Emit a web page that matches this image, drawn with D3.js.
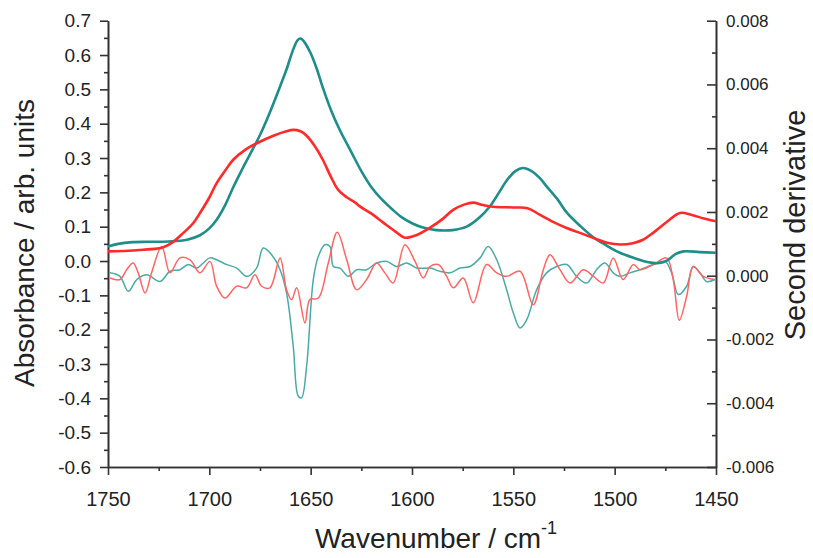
<!DOCTYPE html>
<html>
<head>
<meta charset="utf-8">
<script src="https://cdn.jsdelivr.net/npm/d3@7"></script>
<style>
  body { margin: 0; background: #fff; }
  text { font-family: Arial, "Liberation Sans", sans-serif; fill: #222; }
  .axis path, .axis line { stroke: #333; stroke-width: 1.6; }
</style>
</head>
<body>
<div class="chart"></div>
<script>
  // absorbance spectra, [wavenumber, absorbance]
  var absTeal = [[1750,0.042],[1745,0.05],[1738,0.055],[1730,0.056],[1720,0.057],[1711,0.062],
    [1704.6,0.075],[1700,0.095],[1696.4,0.12],[1692,0.165],[1688.2,0.215],[1684,0.265],
    [1680,0.31],[1675,0.367],[1670,0.435],[1665,0.51],[1661.8,0.56],[1659,0.61],[1656.5,0.643],
    [1655,0.648],[1653,0.637],[1650,0.605],[1647,0.56],[1644,0.505],[1640,0.44],[1635.5,0.38],
    [1630,0.318],[1625,0.262],[1620,0.215],[1615,0.18],[1610,0.152],[1605,0.127],[1600,0.11],
    [1595,0.098],[1588,0.09],[1580,0.09],[1573,0.1],[1567,0.125],[1561.7,0.158],[1557,0.2],
    [1553.1,0.236],[1549,0.262],[1545.2,0.271],[1541,0.262],[1537,0.242],[1533.4,0.216],
    [1528,0.178],[1523.5,0.14],[1517,0.102],[1510.7,0.07],[1504,0.045],[1497.4,0.024],
    [1490,0.008],[1484,-0.003],[1478,-0.006],[1474,0.002],[1470,0.02],[1466,0.028],
    [1458,0.026],[1450,0.024]]

  var absRed = [[1750,0.028],[1740,0.03],[1732.6,0.033],[1726,0.036],[1722.7,0.04],[1718,0.055],
    [1712.8,0.082],[1708,0.11],[1704.6,0.14],[1700,0.185],[1696.4,0.227],[1692,0.265],
    [1688.2,0.295],[1682,0.325],[1676.6,0.343],[1668.4,0.365],[1662,0.378],[1658.6,0.382],
    [1655,0.378],[1652,0.365],[1648,0.335],[1644,0.295],[1640,0.245],[1636.5,0.208],
    [1632,0.185],[1628,0.17],[1625.7,0.159],[1620,0.138],[1614,0.111],[1608,0.085],
    [1603.5,0.068],[1598,0.075],[1591.1,0.097],[1585,0.122],[1579.7,0.149],[1574,0.165],
    [1569.9,0.17],[1565,0.163],[1560,0.158],[1550,0.156],[1543,0.154],[1537,0.135],
    [1530.4,0.114],[1524,0.097],[1517.1,0.082],[1510,0.066],[1503.8,0.053],[1497,0.048],
    [1491,0.052],[1486,0.062],[1481,0.082],[1474,0.115],[1467.8,0.14],[1462,0.134],
    [1456,0.124],[1450,0.116]]

  // second derivative spectra, [wavenumber, value]
  var derivTeal = [[1749,0.00009],[1744.1,-0.00002],[1740,-0.00049],[1735.8,-0.00012],[1730.9,0.00003],
    [1724.3,-0.00018],[1719.4,0.00014],[1714.5,0.00019],[1710.4,0.00035],[1706.2,0.00024],
    [1703,0.0004],[1699.7,0.00056],[1696.4,0.0005],[1691.4,0.00035],[1686.5,0.00024],
    [1681.6,-0.00002],[1676.7,0.00024],[1673.4,0.00087],[1669.3,0.00066],[1665.1,0.00019],
    [1661.9,-0.00054],[1658.6,-0.00221],[1656.1,-0.00378],[1654.5,-0.00383],[1652,-0.00284],
    [1648.7,-0.00012],[1646.2,0.00061],[1643,0.00097],[1640.5,0.00092],[1638.8,0.00029],
    [1635.5,0.00024],[1631.4,-0.00002],[1627.3,0.00019],[1622.4,0.00019],[1617.5,0.0004],
    [1612.5,0.00045],[1607.6,0.00029],[1602.6,0.0004],[1597.7,0.00024],[1591.1,0.00024],
    [1586.2,0.00014],[1581.3,0.00009],[1576.3,0.00024],[1571.4,0.00029],[1566.4,0.00056],
    [1562.4,0.00092],[1558.2,0.0005],[1553.3,-0.00044],[1550,-0.00117],[1546.7,-0.00164],
    [1543.4,-0.00138],[1538.5,-0.00044],[1533.6,0.00009],[1528.6,0.00029],[1523.6,0.00035],
    [1518.8,-0.00002],[1513.8,-0.00023],[1508.9,0.00019],[1504.8,0.0004],[1500.7,0.00009],
    [1497.4,-0.00002],[1492.4,0.00009],[1487.5,0.00019],[1480.9,0.00035],[1475.2,0.00045],
    [1471.9,0.00009],[1468.6,-0.00059],[1464.5,-0.00033],[1461.2,0.00029],[1457.9,0.00009],
    [1454.6,-0.00018],[1450.5,-0.00012]]

  var derivRed = [[1749,-0.00007],[1744.1,-0.00012],[1740.8,0.00019],[1737.6,0.0004],[1735.1,0.00009],
    [1731.7,-0.00054],[1728.5,0.00009],[1723.5,0.00092],[1719.4,0.00009],[1714.5,0.00056],
    [1709.5,0.0005],[1704.6,0.00009],[1699.7,0.00045],[1696.4,-0.00033],[1692.3,-0.0007],
    [1686.5,-0.00033],[1681.6,-0.00038],[1677.5,0.00003],[1674.2,-0.00033],[1670.1,-0.00038],
    [1665.1,0.00056],[1661.9,-0.00044],[1659.4,-0.00075],[1656.9,-0.00038],[1652.8,-0.00148],
    [1650.4,-0.00075],[1646.2,-0.0007],[1641.3,0.0004],[1636.9,0.00136],[1632.2,0.0005],
    [1627.3,-0.00044],[1622.4,-0.00012],[1617.5,0.0004],[1613.4,0.00009],[1609.3,-0.00023],
    [1603.5,0.00097],[1598.5,0.00045],[1594.4,-0.00007],[1591.1,0.00029],[1587,0.00035],
    [1582.9,-0.00002],[1579.6,-0.00038],[1574.7,-0.00007],[1569.8,-0.00085],[1563.2,0.00035],
    [1558.2,0.00009],[1553.3,-0.00002],[1546.7,0.00014],[1540.2,-0.00091],[1535.2,0.00019],
    [1531.9,0.00066],[1527,0.00019],[1522,-0.00023],[1515.5,0.00019],[1510.5,-0.00002],
    [1505.6,-0.00023],[1500.7,0.00056],[1495.8,-0.00012],[1490.8,0.00035],[1487.5,0.00019],
    [1480.9,0.00035],[1474.4,0.00056],[1471.1,-0.00012],[1468.1,-0.0014],[1464.5,-0.00065],
    [1461.2,0.00029],[1456.3,-0.00002],[1450.5,-0.00012]]

  var xTicks = [1750, 1700, 1650, 1600, 1550, 1500, 1450]
  var yLeftTicks = [0.7, 0.6, 0.5, 0.4, 0.3, 0.2, 0.1, 0.0, -0.1, -0.2, -0.3, -0.4, -0.5, -0.6]
  var yRightTicks = [0.008, 0.006, 0.004, 0.002, 0.000, -0.002, -0.004, -0.006]

  var width = 813
  var height = 558
  var plotLeft = 108, plotRight = 716, plotTop = 20.7, plotBottom = 467

  var svg = d3.select('.chart')
    .append('svg')
    .attr('width', width)
    .attr('height', height)

  var x = d3.scaleLinear().domain([1750, 1450]).range([plotLeft, plotRight])
  var yL = d3.scaleLinear().domain([-0.6, 0.7]).range([plotBottom, plotTop])
  var yR = d3.scaleLinear().domain([-0.006, 0.008]).range([plotBottom, plotTop])

  // minor ticks sit halfway between the major ones
  var xMinor = d3.range(1725, 1450, -50)
  var yLeftMinor = d3.range(-0.55, 0.7, 0.1)
  var yRightMinor = d3.range(-0.005, 0.008, 0.002)

  function fmt(n) {
    return function(d) { return d.toFixed(n) }
  }

  // bottom axis
  svg.append('g').attr('class', 'axis')
    .attr('transform', 'translate(0,' + plotBottom + ')')
    .call(d3.axisBottom(x).tickValues(xMinor).tickSize(4).tickFormat('').tickSizeOuter(0))
  var gx = svg.append('g').attr('class', 'axis')
    .attr('transform', 'translate(0,' + plotBottom + ')')
    .call(d3.axisBottom(x).tickValues(xTicks).tickSize(8).tickPadding(17).tickFormat(d3.format('d')).tickSizeOuter(0))
  gx.selectAll('text').style('font-size', '20px')

  // left axis
  svg.append('g').attr('class', 'axis')
    .attr('transform', 'translate(' + plotLeft + ',0)')
    .call(d3.axisLeft(yL).tickValues(yLeftMinor).tickSize(4).tickFormat('').tickSizeOuter(0))
  var gl = svg.append('g').attr('class', 'axis')
    .attr('transform', 'translate(' + plotLeft + ',0)')
    .call(d3.axisLeft(yL).tickValues(yLeftTicks).tickSize(8).tickPadding(9).tickFormat(fmt(1)).tickSizeOuter(0))
  gl.selectAll('text').style('font-size', '19px')

  // right axis, ticks point into the plot
  svg.append('g').attr('class', 'axis')
    .attr('transform', 'translate(' + plotRight + ',0)')
    .call(d3.axisRight(yR).tickValues(yRightMinor).tickSize(-4).tickFormat('').tickSizeOuter(0))
  var gr = svg.append('g').attr('class', 'axis')
    .attr('transform', 'translate(' + plotRight + ',0)')
    .call(d3.axisRight(yR).tickValues(yRightTicks).tickSize(-9).tickPadding(10).tickFormat(fmt(3)).tickSizeOuter(0))
  gr.selectAll('text').style('font-size', '17px')

  // curves
  var lineAbs = d3.line()
    .x(function(d) { return x(d[0]) })
    .y(function(d) { return yL(d[1]) })
    .curve(d3.curveCatmullRom.alpha(0.5))

  var lineDeriv = d3.line()
    .x(function(d) { return x(d[0]) })
    .y(function(d) { return yR(d[1]) })
    .curve(d3.curveCatmullRom.alpha(0.5))

  svg.append('path').datum(derivTeal)
    .attr('d', lineDeriv).attr('fill', 'none')
    .attr('stroke', '#4aaaa6').attr('stroke-width', 1.5)
  svg.append('path').datum(derivRed)
    .attr('d', lineDeriv).attr('fill', 'none')
    .attr('stroke', '#ff6464').attr('stroke-width', 1.5)
  svg.append('path').datum(absTeal)
    .attr('d', lineAbs).attr('fill', 'none')
    .attr('stroke', '#1f8d8a').attr('stroke-width', 2.6)
  svg.append('path').datum(absRed)
    .attr('d', lineAbs).attr('fill', 'none')
    .attr('stroke', '#ff2a2a').attr('stroke-width', 2.6)

  // axis titles
  svg.append('text')
    .attr('transform', 'translate(34,243) rotate(-90)')
    .attr('text-anchor', 'middle')
    .style('font-size', '28px')
    .text('Absorbance / arb. units')

  svg.append('text')
    .attr('transform', 'translate(805,225) rotate(-90)')
    .attr('text-anchor', 'middle')
    .style('font-size', '29px')
    .text('Second derivative')

  var xt = svg.append('text')
    .attr('x', 436)
    .attr('y', 548)
    .attr('text-anchor', 'middle')
    .style('font-size', '28px')
  xt.append('tspan').text('Wavenumber / cm')
  xt.append('tspan').attr('dy', -14).style('font-size', '18px').text('-1')
</script>
</body>
</html>
